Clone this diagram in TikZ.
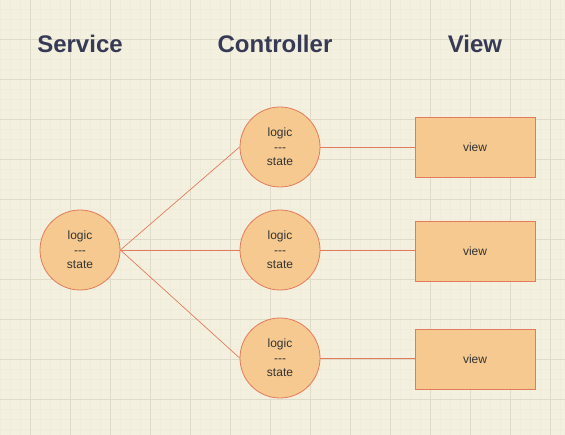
\documentclass[tikz,border=0pt]{standalone}
\usepackage{fontspec}
\setmainfont[Ligatures=NoCommon]{Liberation Sans}
\definecolor{bg}{HTML}{F4F0DF}
\definecolor{gridmajor}{HTML}{E0DBC8}
\definecolor{gridminor}{HTML}{F0ECDA}
\definecolor{nodefill}{HTML}{F5C98F}
\definecolor{nodeline}{HTML}{E27B5C}
\definecolor{headtext}{HTML}{363A55}
\definecolor{bodytext}{HTML}{333333}
\newcommand{\dashes}{-{}-{}-}
\begin{document}
\begin{tikzpicture}[x=1pt,y=-1pt,
  heading/.style={font=\fontsize{24}{26}\selectfont\bfseries, text=headtext},
  circ/.style={circle, draw=nodeline, fill=nodefill, line width=0.8pt, minimum size=80pt, inner sep=0pt, align=center, text=bodytext, font=\fontsize{12}{14.5}\selectfont},
  viewbox/.style={rectangle, draw=nodeline, fill=nodefill, line width=0.8pt, minimum width=120pt, minimum height=60pt, inner sep=0pt, text=bodytext, font=\fontsize{12}{14.5}\selectfont},
  link/.style={draw=nodeline, line width=0.7pt}]
\useasboundingbox (0,0) rectangle (565,435);
\fill[bg] (0,0) rectangle (565,435);
\foreach \x in {0.7,10.7,...,565} \draw[gridminor, line width=0.5pt] (\x,0) -- (\x,435);
\foreach \y in {9.3,19.3,...,435} \draw[gridminor, line width=0.5pt] (0,\y) -- (565,\y);
\foreach \x in {30.7,70.7,...,565} \draw[gridmajor, line width=0.7pt] (\x,0) -- (\x,435);
\foreach \y in {39.3,79.3,...,435} \draw[gridmajor, line width=0.7pt] (0,\y) -- (565,\y);

\node[heading] (hs) at (80,44) {Service};
\node[heading] (hc) at (275,44) {Controller};
\node[heading] (hv) at (475,44) {View};

\node[circ] (s) at (80,250) {logic\\\dashes\\state};
\node[circ] (c1) at (280,147) {logic\\\dashes\\state};
\node[circ] (c2) at (280,250) {logic\\\dashes\\state};
\node[circ] (c3) at (280,358) {logic\\\dashes\\state};

\node[viewbox] (v1) at (475,147) {view};
\node[viewbox] (v2) at (475,251) {view};
\node[viewbox] (v3) at (475,359) {view};

\draw[link] (s.east) -- (c1.west);
\draw[link] (s.east) -- (c2.west);
\draw[link] (s.east) -- (c3.west);
\draw[link] (c1.east) -- (c1.east -| v1.west);
\draw[link] (c2.east) -- (c2.east -| v2.west);
\draw[link] (c3.east) -- (c3.east -| v3.west);
\end{tikzpicture}
\end{document}
